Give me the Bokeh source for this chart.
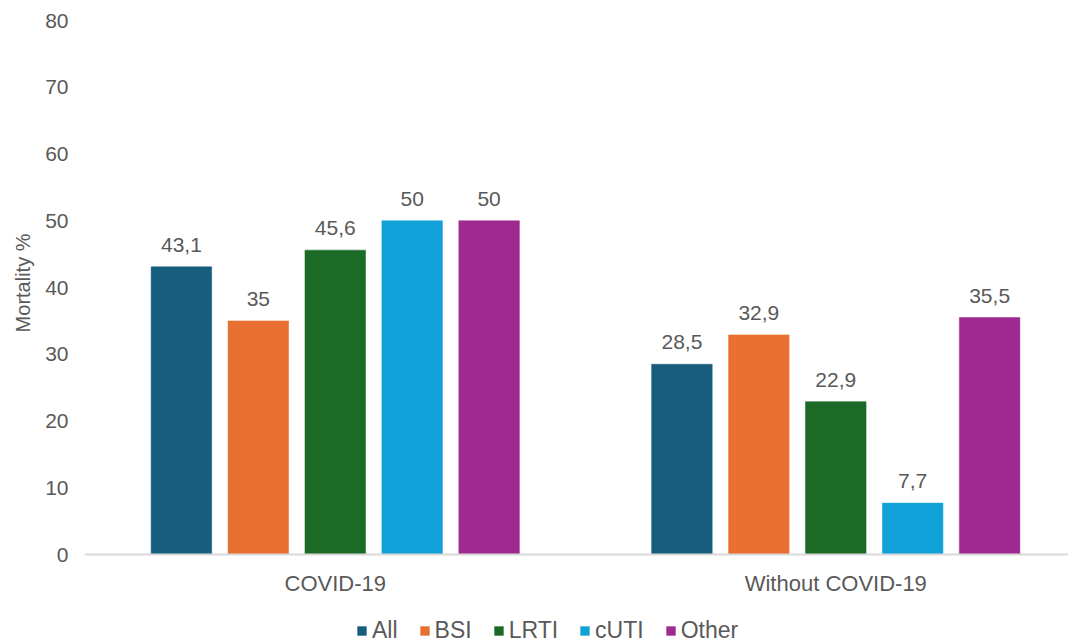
from bokeh.plotting import figure
from bokeh.models import (Range1d, FixedTicker, Legend, LegendItem, ColumnDataSource,
                          Span, Title)
from bokeh.transform import dodge
from bokeh.core.properties import value
from bokeh.embed import file_html
from bokeh.resources import INLINE

groups = ["COVID-19", "Without COVID-19"]
series = ["All", "BSI", "LRTI", "cUTI", "Other"]
all_vals = [43.1, 28.5]
bsi_vals = [35, 32.9]
lrti_vals = [45.6, 22.9]
cuti_vals = [50, 7.7]
other_vals = [50, 35.5]
y_ticks = [0, 10, 20, 30, 40, 50, 60, 70, 80]

colors = ["#175d7e", "#e87030", "#1b6a25", "#12a0d8", "#9e2a8f"]
series_vals = [all_vals, bsi_vals, lrti_vals, cuti_vals, other_vals]

FONT = "Liberation Sans"
TXT = "#595959"

# frame extends below zero so category labels and legend sit inside it
p = figure(width=1068, height=644, output_backend="svg", toolbar_location=None,
           x_range=Range1d(-0.501, 1.465), y_range=Range1d(-13.48, 80),
           min_border_left=84, min_border_right=0, min_border_top=20,
           min_border_bottom=0)
p.outline_line_color = None
p.xgrid.visible = False
p.ygrid.visible = False
p.xaxis.visible = False
p.background_fill_color = "white"
p.border_fill_color = "white"

step = 0.1537
bw = 0.121
renderers = []
for i, (name, vals, col) in enumerate(zip(series, series_vals, colors)):
    src = ColumnDataSource(dict(
        x=list(range(len(groups))),
        top=vals,
        lab=[f"{v:g}".replace(".", ",") for v in vals],
    ))
    off = (i - 2) * step
    r = p.vbar(x=dodge("x", off), top="top", bottom=0, width=bw, source=src,
               fill_color=col, line_color=col, line_width=0.5)
    renderers.append(r)
    p.text(x=dodge("x", off), y="top", text="lab", source=src,
           text_align="center", text_baseline="middle", y_offset=-22,
           text_font=value(FONT), text_font_size="21px", text_color=TXT)

# baseline (category axis line)
p.add_layout(Span(location=0, dimension="width", line_color="#d9d9d9", line_width=2))

# category labels
cat_src = ColumnDataSource(dict(x=list(range(len(groups))), y=[0] * len(groups), t=groups))
p.text(x="x", y="y", text="t", source=cat_src, text_align="center",
       text_baseline="middle", y_offset=29, text_font=value(FONT),
       text_font_size="22px", text_color=TXT)

# Y axis
p.yaxis.ticker = FixedTicker(ticks=y_ticks)
p.yaxis.axis_line_color = None
p.yaxis.major_tick_line_color = None
p.yaxis.minor_tick_line_color = None
p.yaxis.major_label_text_font = FONT
p.yaxis.major_label_text_font_size = "21px"
p.yaxis.major_label_text_color = TXT
p.yaxis.major_label_standoff = 10

p.add_layout(Title(text="Mortality %", align="right", offset=213,
                   text_font=FONT, text_font_size="20px", text_font_style="normal",
                   text_color=TXT, standoff=17), "left")

legend = Legend(items=[LegendItem(label=s, renderers=[r]) for s, r in zip(series, renderers)],
                orientation="horizontal", location=(272, 0),
                border_line_color=None, background_fill_alpha=0,
                label_text_font=FONT, label_text_font_size="23px",
                label_text_color=TXT, glyph_width=11, glyph_height=11,
                label_standoff=5, spacing=21, padding=0, margin=0,
                label_height=20)
p.add_layout(legend, "center")

open("out.html", "w").write(file_html(p, INLINE))
